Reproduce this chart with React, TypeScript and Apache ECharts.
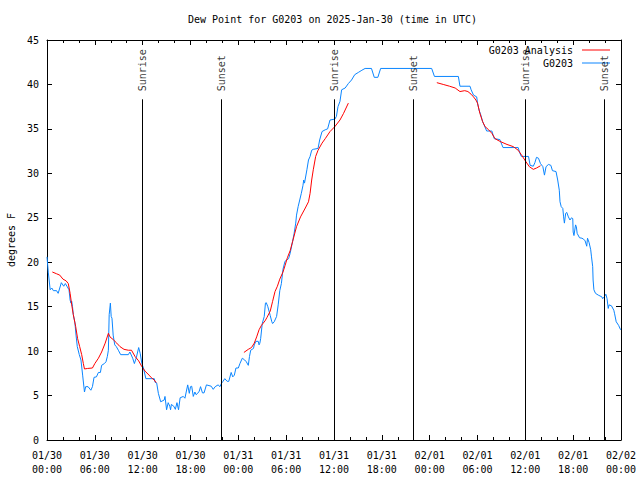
import React, { useEffect, useRef } from "react";
import * as echarts from "echarts";

const FONT = "DejaVu Sans Mono";

const xTickLabels = [
  "01/30\n00:00", "01/30\n06:00", "01/30\n12:00", "01/30\n18:00",
  "01/31\n00:00", "01/31\n06:00", "01/31\n12:00", "01/31\n18:00",
  "02/01\n00:00", "02/01\n06:00", "02/01\n12:00", "02/01\n18:00",
  "02/02\n00:00",
];

// hours since 01/30 00:00 UTC
const sunEvents: [number, string][] = [
  [11.95, "Sunrise"], [21.9, "Sunset"], [36.04, "Sunrise"],
  [45.95, "Sunset"], [60.0, "Sunrise"], [69.9, "Sunset"],
];
const sunLineTop = 38.33;

const obs: [number, number][] = [
  [0,20.6],[0.17,18.8],[0.4,16.9],[0.6,17.1],[0.8,16.8],[1.2,16.8],[1.4,16.5],[1.8,17.7],[2.1,17.3],[2.3,17.6],[2.5,17.3],[2.76,16.9],[2.9,15.75],[3.0,15.4],[3.1,15.6],[3.2,15.0],[3.3,14.1],[3.5,13.2],[3.64,11.8],[3.8,10.5],[4.05,9.6],[4.26,9.0],[4.47,7.3],[4.7,5.4],[4.85,6.0],[5.15,6.0],[5.5,5.6],[5.7,6.0],[5.9,7.05],[6.2,7.1],[6.45,7.6],[6.7,7.6],[6.85,8.4],[7.2,8.6],[7.4,8.8],[7.57,9.4],[7.7,10.1],[7.8,14.1],[7.95,15.4],[8.05,13.9],[8.15,13.7],[8.3,11.8],[8.5,10.7],[8.7,10.5],[8.95,10.1],[9.24,9.6],[10.2,9.6],[10.4,9.9],[10.75,9.2],[10.96,8.6],[11.2,9.25],[11.5,10.4],[11.7,9.7],[11.9,8.6],[12.1,8.1],[12.4,6.9],[13.46,6.9],[13.55,6.5],[13.76,6.4],[13.97,5.25],[14.26,4.3],[14.7,4.5],[14.8,4.9],[15.0,3.4],[15.2,4.2],[15.4,3.8],[15.5,3.4],[15.6,4.0],[15.9,3.8],[16.1,3.45],[16.3,4.2],[16.5,3.4],[16.7,4.75],[17.1,4.9],[17.3,4.7],[17.65,6.2],[17.85,5.25],[18.0,6.0],[18.15,6.05],[18.35,4.9],[18.55,5.4],[18.7,5.1],[18.9,5.25],[19.1,5.5],[19.26,6.0],[19.5,5.3],[19.7,5.3],[20.0,6.2],[20.6,6.05],[20.85,5.7],[21.1,6.0],[21.46,6.2],[21.7,6.0],[21.9,6.4],[22.04,6.55],[22.3,6.9],[22.6,6.6],[22.8,6.6],[23.1,7.6],[23.3,7.1],[23.5,7.3],[23.7,8.1],[24.0,8.1],[24.2,8.6],[24.5,9.2],[24.8,9.0],[25.0,8.8],[25.25,8.4],[25.4,9.4],[25.55,10.1],[25.9,10.3],[26.0,10.7],[26.2,11.1],[26.5,11.1],[26.6,10.7],[26.7,10.9],[26.8,11.4],[27.0,13.1],[27.25,13.9],[27.4,15.4],[27.5,15.45],[27.7,15.0],[28.0,14.0],[28.2,13.3],[28.3,13.1],[28.5,13.3],[28.8,13.9],[29.0,15.2],[29.2,16.8],[29.4,17.6],[29.6,19.2],[29.85,20.1],[30.3,20.4],[30.5,21.0],[30.8,22.3],[31.0,23.25],[31.2,24.4],[31.3,25.3],[31.5,26.25],[31.7,27.0],[31.9,27.75],[32.1,28.6],[32.2,29.25],[32.3,28.9],[32.6,30.4],[32.8,31.5],[33.0,31.9],[33.2,32.6],[33.4,32.7],[34.0,32.8],[34.2,33.75],[34.5,34.7],[34.9,34.9],[35.2,35.0],[35.5,36.0],[36.1,36.1],[36.3,36.4],[36.5,37.5],[36.75,38.1],[36.96,39.4],[37.4,39.6],[37.8,40.1],[38.2,40.5],[38.6,41.1],[39.05,41.35],[39.5,41.6],[39.9,41.8],[40.7,41.8],[41.05,40.8],[41.5,40.8],[41.85,41.8],[48.25,41.8],[48.6,40.9],[51.6,40.9],[51.8,39.8],[53.06,39.8],[53.2,39.4],[53.5,38.8],[53.9,38.6],[54.0,37.9],[54.2,37.1],[54.4,36.6],[54.65,35.8],[54.85,35.4],[55.15,34.76],[55.8,34.76],[56.1,33.9],[56.8,33.8],[57.2,32.9],[59.1,32.9],[59.3,32.3],[59.5,31.9],[60.4,31.9],[60.6,30.9],[61.0,30.8],[61.2,31.2],[61.4,31.8],[61.65,31.7],[61.9,31.1],[62.2,30.75],[62.4,29.8],[62.6,30.75],[62.9,31.0],[63.2,30.9],[63.4,30.3],[63.85,30.2],[64.06,29.25],[64.26,28.1],[64.35,26.8],[64.5,26.25],[64.7,26.05],[64.8,25.1],[64.9,24.4],[65.06,25.5],[65.2,25.6],[65.4,25.1],[65.6,24.75],[65.8,25.0],[65.95,24.9],[66.0,23.4],[66.1,23.0],[66.3,24.2],[66.4,24.0],[66.5,23.25],[66.8,22.75],[67.1,22.7],[67.3,22.6],[67.5,22.4],[67.7,21.8],[67.8,22.7],[68.0,22.2],[68.2,21.4],[68.3,20.6],[68.45,19.5],[68.5,18.0],[68.6,16.9],[68.8,16.5],[69.15,16.3],[69.6,16.1],[69.7,15.9],[69.9,16.1],[70.1,16.4],[70.25,15.9],[70.4,14.8],[70.5,15.2],[70.8,15.1],[71.1,14.6],[71.2,14.2],[71.4,13.3],[71.7,12.9],[71.95,12.4],
];

const analysis1: [number, number][] = [
  [0.67,18.9],[1.2,18.7],[1.6,18.55],[2.0,18.1],[2.4,17.9],[2.67,17.6],[2.9,16.5],[3.1,15.2],[3.3,14.1],[3.6,12.75],[3.84,11.4],[4.1,10.5],[4.35,9.6],[4.56,8.6],[4.7,7.99],[5.1,8.05],[5.7,8.1],[6.0,8.6],[6.45,9.2],[6.85,9.9],[7.3,10.9],[7.7,12.0],[7.9,11.6],[8.3,11.3],[8.75,10.9],[9.16,10.5],[9.66,10.2],[10.2,10.1],[10.6,10.1],[11.04,9.4],[11.5,8.9],[11.9,8.25],[12.3,7.75],[12.8,7.3],[13.1,7.0],[13.45,6.75],[13.7,6.45],
];
const analysis2: [number, number][] = [
  [24.7,9.85],[25.25,10.2],[25.65,10.4],[26.0,10.9],[26.3,11.6],[26.6,12.4],[26.9,12.9],[27.35,13.4],[27.6,13.8],[28.0,14.5],[28.3,15.6],[28.6,16.7],[28.9,17.3],[29.2,18.1],[29.6,18.9],[29.85,19.6],[30.15,20.5],[30.5,21.3],[30.8,22.3],[31.3,24.0],[31.8,25.1],[32.4,26.1],[32.8,26.8],[33.0,27.75],[33.2,29.25],[33.4,30.4],[33.7,31.9],[34.0,32.6],[34.5,33.4],[34.9,33.9],[35.5,34.7],[36.1,35.25],[36.75,36.0],[37.2,36.75],[37.8,37.9],
];
const analysis3: [number, number][] = [
  [48.9,40.2],[49.7,40.0],[50.5,39.8],[51.2,39.6],[51.8,39.2],[52.4,39.3],[52.8,39.2],[53.2,38.9],[53.5,38.6],[53.8,38.25],[54.0,37.9],[54.3,36.75],[54.65,35.8],[54.95,35.25],[55.4,34.9],[55.8,34.5],[56.2,33.9],[56.8,33.6],[57.7,33.25],[58.5,33.0],[59.1,32.6],[59.5,32.1],[60.0,31.4],[60.5,30.75],[61.0,30.45],[61.4,30.6],[61.9,30.85],
];

const RED = "#ff0000";
const BLUE = "#0a85ff";
const ANALYSIS_NAME = "G0203 Analysis";
const OBS_NAME = "G0203";

export default function App() {
  const ref = useRef<HTMLDivElement>(null);
  useEffect(() => {
    if (!ref.current) return;
    const chart = echarts.init(ref.current, undefined, { renderer: "svg" });
    const axisCommon = {
      type: "value" as const,
      axisLine: { show: true, onZero: false, lineStyle: { color: "#000", width: 1 } },
      axisTick: { show: true, inside: true, length: 5, lineStyle: { color: "#000" } },
      splitLine: { show: false },
    };
    const redSeries = [analysis1, analysis2, analysis3].map((seg) => ({
      name: ANALYSIS_NAME,
      type: "line",
      data: seg,
      symbol: "none",
      lineStyle: { color: RED, width: 1 },
      itemStyle: { color: RED },
      z: 3,
    }));
    const legendCommon = {
      right: 30,
      align: "right",
      orient: "horizontal",
      icon: "rect",
      itemWidth: 28,
      itemHeight: 1,
      padding: 0,
      itemGap: 0,
      selectedMode: false,
      textStyle: { fontFamily: FONT, fontSize: 10, color: "#000", padding: [0, 4, 0, 0] },
    };
    chart.setOption({
      animation: false,
      backgroundColor: "#fff",
      textStyle: { fontFamily: FONT },
      title: {
        text: "Dew Point for G0203 on 2025-Jan-30 (time in UTC)",
        left: 188,
        top: 14,
        padding: 0,
        textStyle: { fontFamily: FONT, fontSize: 10, fontWeight: "normal", color: "#000" },
      },
      legend: [
        { ...legendCommon, data: [ANALYSIS_NAME], top: 45 },
        { ...legendCommon, data: [OBS_NAME], top: 58 },
      ],
      grid: { left: 47, right: 19, top: 40, bottom: 40, containLabel: false, outerBoundsMode: "none" },
      xAxis: [
        {
          ...axisCommon,
          min: 0,
          max: 72,
          interval: 6,
          position: "bottom",
          minorTick: { show: true, splitNumber: 3, length: 3, lineStyle: { color: "#000" } },
          axisLabel: {
            color: "#000",
            fontFamily: FONT,
            fontSize: 10,
            lineHeight: 14,
            margin: 8,
            formatter: (v: number) => xTickLabels[Math.round(v / 6)] ?? "",
          },
        },
        {
          ...axisCommon,
          min: 0,
          max: 72,
          interval: 6,
          position: "top",
          minorTick: { show: true, splitNumber: 3, length: 3, lineStyle: { color: "#000" } },
          axisLabel: { show: false },
        },
      ],
      yAxis: [
        {
          ...axisCommon,
          min: 0,
          max: 45,
          interval: 5,
          position: "left",
          name: "degrees F",
          nameLocation: "middle",
          nameRotate: 90,
          nameGap: 31,
          nameTextStyle: { fontFamily: FONT, fontSize: 10, color: "#000" },
          axisLabel: { color: "#000", fontFamily: FONT, fontSize: 10, margin: 8 },
        },
        {
          ...axisCommon,
          min: 0,
          max: 45,
          interval: 5,
          position: "right",
          axisLabel: { show: false },
        },
      ],
      series: [
        ...redSeries,
        {
          name: OBS_NAME,
          type: "line",
          data: obs,
          symbol: "none",
          lineStyle: { color: BLUE, width: 1 },
          itemStyle: { color: BLUE },
          z: 2,
          markLine: {
            silent: true,
            symbol: "none",
            label: { show: false },
            lineStyle: { color: "#000", width: 1, type: "solid" },
            data: sunEvents.map(([h]) => [{ coord: [h, 0] }, { coord: [h, sunLineTop] }]),
          },
        },
        {
          name: "sunlabels",
          type: "scatter",
          data: sunEvents.map(([h, n]) => ({ value: [h, sunLineTop], name: n })),
          symbolSize: 0,
          silent: true,
          label: {
            show: true,
            formatter: (p: any) => p.name,
            position: "top",
            distance: 8,
            rotate: 90,
            align: "left",
            verticalAlign: "middle",
            fontFamily: FONT,
            fontSize: 10,
            color: "#000",
          },
          z: 4,
        },
      ],
    });
    return () => chart.dispose();
  }, []);
  return (
    <div
      ref={ref}
      style={{ position: "fixed", left: 0, top: 0, width: 640, height: 480 }}
    />
  );
}
